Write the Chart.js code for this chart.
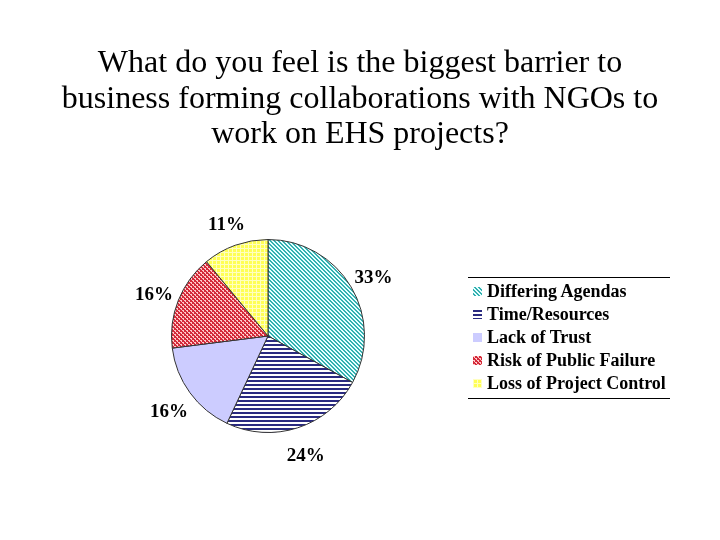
<!DOCTYPE html>
<html>
<head>
<meta charset="utf-8">
<script src="https://cdn.jsdelivr.net/npm/chart.js@4.4.0/dist/chart.umd.min.js"></script>
<style>
  body { margin: 0; background: #fff; }
  #wrap { position: relative; width: 720px; height: 540px; }
  #titulo {
    position: absolute; left: 0; top: 44px; width: 720px; text-align: center;
    font-family: "Liberation Serif", "Times New Roman", serif; font-size: 32px; line-height: 35.5px; color: #000;
  }
  #leyenda {
    position: absolute; left: 468px; top: 277px; width: 202px;
    border-top: 1px solid #000; border-bottom: 1px solid #000;
    padding: 2px 0 3px 0;
    font-family: "Liberation Serif", "Times New Roman", serif; font-weight: bold; font-size: 18px; color: #000;
  }
  .item { height: 23px; line-height: 23px; white-space: nowrap; }
  .item canvas { vertical-align: middle; margin: 0 5px 3px 5px; }
</style>
</head>
<body>
<div id="wrap">
  <canvas id="myChart" width="720" height="540"></canvas>
  <div id="titulo">What do you feel is the biggest barrier to<br>business forming collaborations with NGOs to<br>work on EHS projects?</div>
  <div id="leyenda"></div>
</div>
<script>
const categorias = ["Differing Agendas", "Time/Resources", "Lack of Trust", "Risk of Public Failure", "Loss of Project Control"];
const porcentajes = [33, 24, 16, 16, 11];
const etiquetas = ["33%", "24%", "16%", "16%", "11%"];

// patrones de relleno, parecidos a los del original
const crearPatron = (tipo) => {
  const c = document.createElement("canvas");
  c.width = 4; c.height = 4;
  const ctx = c.getContext("2d");
  if (tipo === 0) {
    ctx.fillStyle = "#e6ffff"; ctx.fillRect(0, 0, 4, 4);
    ctx.fillStyle = "#33b0b0";
    for (let i = 0; i < 4; i++) {
      ctx.fillRect((i + 1) % 4, i, 1, 1);
      ctx.fillRect((i + 2) % 4, i, 1, 1);
    }
  } else if (tipo === 1) {
    ctx.fillStyle = "#ffffff"; ctx.fillRect(0, 0, 4, 4);
    ctx.fillStyle = "#2a2a80"; ctx.fillRect(0, 0, 4, 2);
  } else if (tipo === 2) {
    ctx.fillStyle = "#ccccff"; ctx.fillRect(0, 0, 4, 4);
  } else if (tipo === 3) {
    ctx.fillStyle = "#d42a3a"; ctx.fillRect(0, 0, 4, 4);
    ctx.fillStyle = "#ffc8c8";
    ctx.fillRect(0, 0, 2, 1); ctx.fillRect(2, 2, 2, 1);
    ctx.fillRect(1, 1, 1, 1); ctx.fillRect(3, 3, 1, 1);
  } else {
    ctx.fillStyle = "#ffff55"; ctx.fillRect(0, 0, 4, 4);
    ctx.fillStyle = "#ffffc0";
    ctx.fillRect(0, 0, 4, 1); ctx.fillRect(0, 0, 1, 4);
  }
  return c;
};

const patrones = categorias.map((_, i) => {
  const tmp = document.createElement("canvas").getContext("2d");
  return tmp.createPattern(crearPatron(i), "repeat");
});

// etiquetas de porcentaje fuera de la torta
const pluginEtiquetas = {
  id: "etiquetas",
  afterDatasetsDraw(chart) {
    const ctx = chart.ctx;
    const meta = chart.getDatasetMeta(0);
    ctx.save();
    ctx.font = "bold 19px 'Liberation Serif', 'Times New Roman', serif";
    ctx.fillStyle = "#000";
    ctx.textAlign = "center";
    ctx.textBaseline = "middle";
    meta.data.forEach((arc, i) => {
      const p = arc.getProps(["x", "y", "startAngle", "endAngle", "outerRadius"], true);
      const ang = (p.startAngle + p.endAngle) / 2;
      const r = p.outerRadius + 26;
      ctx.fillText(etiquetas[i], p.x + Math.cos(ang) * r, p.y + Math.sin(ang) * r + 4);
    });
    ctx.restore();
  }
};

const config = {
  type: "pie",
  data: {
    labels: categorias,
    datasets: [{
      data: porcentajes,
      backgroundColor: patrones,
      borderColor: "#333",
      borderWidth: 1
    }]
  },
  options: {
    responsive: false,
    animation: false,
    layout: { padding: { left: 171, right: 355, top: 239, bottom: 107 } },
    plugins: {
      legend: { display: false },
      tooltip: { enabled: false }
    }
  },
  plugins: [pluginEtiquetas]
};

new Chart(document.getElementById("myChart"), config);

// leyenda en html
const leyenda = document.getElementById("leyenda");
categorias.forEach((nombre, i) => {
  const fila = document.createElement("div");
  fila.className = "item";
  const sw = document.createElement("canvas");
  sw.width = 9; sw.height = 9;
  const sctx = sw.getContext("2d");
  sctx.fillStyle = sctx.createPattern(crearPatron(i), "repeat");
  sctx.fillRect(0, 0, 9, 9);
  fila.appendChild(sw);
  fila.appendChild(document.createTextNode(nombre));
  leyenda.appendChild(fila);
});
</script>
</body>
</html>
